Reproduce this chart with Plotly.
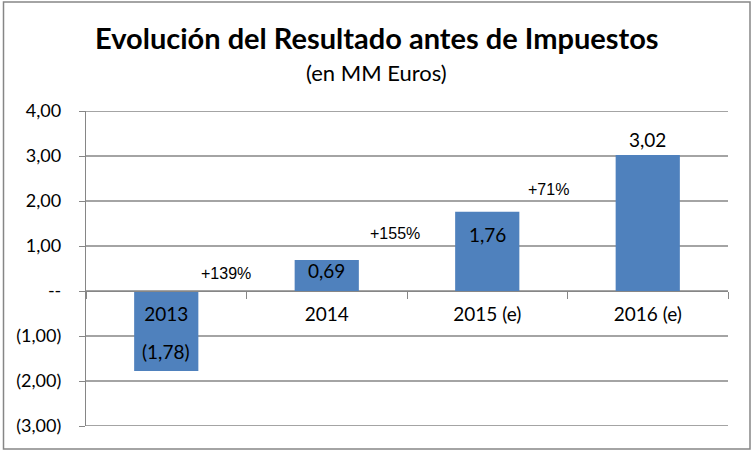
import plotly.graph_objects as go

# ---- data ----
categories = ["2013", "2014", "2015 (e)", "2016 (e)"]
values = [-1.78, 0.69, 1.76, 3.02]
growth_labels = ["+139%", "+155%", "+71%"]
y_tick_values = [-3, -2, -1, 0, 1, 2, 3, 4]
y_tick_labels = ["(3,00)", "(2,00)", "(1,00)", "--", "1,00", "2,00", "3,00", "4,00"]


def fmt(v):
    s = f"{abs(v):.2f}".replace(".", ",")
    return f"({s})" if v < 0 else s


BAR = "#4F81BD"
GRID = "#868686"
FONT = "Lato"

W, H = 753, 452
L, R, T, B = 86, 25, 111, 26
pw, ph = W - L - R, H - T - B


def px2paper_x(px):
    return (px - L) / pw


def px2paper_y(py):
    return (H - B - py) / ph


fig = go.Figure()
fig.add_trace(go.Bar(
    x=categories, y=values, marker=dict(color=BAR, line=dict(width=0)),
    hoverinfo="x+y", showlegend=False,
))
# invisible carrier trace for the category axis drawn at y = 0
fig.add_trace(go.Scatter(
    x=categories, y=[0] * len(categories), xaxis="x2", yaxis="y2",
    mode="markers", marker=dict(opacity=0), hoverinfo="skip", showlegend=False,
))

annotations = []
# value labels (x given as category index)
value_shift = [20, -11, -23, 16]
for i, (v, s) in enumerate(zip(values, value_shift)):
    annotations.append(dict(
        x=i, y=v, xref="x", yref="y", text=fmt(v), showarrow=False,
        yanchor="middle", yshift=s, font=dict(family=FONT, size=19, color="#000000"),
    ))

# growth labels between bars
growth_pos = [(0.375, 0.38), (1.425, 1.27), (2.38, 2.25)]
for g, (gx, gy) in zip(growth_labels, growth_pos):
    annotations.append(dict(
        x=gx, y=gy, xref="x", yref="y", text=g, showarrow=False,
        font=dict(family="Liberation Sans", size=16, color="#000000"),
    ))

# title & subtitle
annotations.append(dict(
    x=px2paper_x(377), y=px2paper_y(38), xref="paper", yref="paper",
    text="<b>Evolución del Resultado antes de Impuestos</b>", showarrow=False,
    font=dict(family=FONT, size=29, color="#000000"), xanchor="center", yanchor="middle",
))
annotations.append(dict(
    x=px2paper_x(376), y=px2paper_y(72), xref="paper", yref="paper",
    text="(en MM Euros)", showarrow=False,
    font=dict(family=FONT, size=22, color="#000000"), xanchor="center", yanchor="middle",
))

shapes = [dict(
    type="rect", xref="paper", yref="paper",
    x0=px2paper_x(3.5), x1=px2paper_x(750), y0=px2paper_y(449), y1=px2paper_y(2),
    line=dict(color=GRID, width=1.5), fillcolor="rgba(0,0,0,0)", layer="below",
)]
# horizontal gridlines at the y-axis tick values
for tv in y_tick_values:
    shapes.append(dict(
        type="line", xref="x domain", yref="y", x0=0, x1=1, y0=tv, y1=tv,
        line=dict(color=GRID, width=1.3), layer="below",
    ))

fig.update_layout(
    width=W, height=H,
    margin=dict(l=L, r=R, t=T, b=B, pad=0),
    paper_bgcolor="white", plot_bgcolor="white",
    bargap=0.6,
    annotations=annotations,
    shapes=shapes,
    xaxis=dict(
        type="category", range=[-0.5, 3.5],
        showline=False, ticks="", showticklabels=False, showgrid=False, zeroline=False,
    ),
    xaxis2=dict(
        type="category", overlaying="x", anchor="free", position=3 / 7,
        range=[-0.5, 3.5], side="bottom",
        showline=True, linecolor=GRID, linewidth=1.3,
        ticks="outside", tickson="boundaries", ticklen=7, tickcolor=GRID, tickwidth=1.3,
        showgrid=False, zeroline=False,
        tickfont=dict(family=FONT, size=19, color="#000000"),
        ticklabelstandoff=6,
    ),
    yaxis=dict(
        range=[-3, 4], tickvals=y_tick_values, ticktext=y_tick_labels,
        showline=True, linecolor=GRID, linewidth=1.3,
        ticks="outside", ticklen=6, tickcolor=GRID, tickwidth=1.3,
        showgrid=False, zeroline=False,
        tickfont=dict(family=FONT, size=18, color="#000000"),
        ticklabelstandoff=14,
    ),
    yaxis2=dict(
        range=[-3, 4], overlaying="y", anchor="x2",
        visible=False, showgrid=False, zeroline=False,
    ),
)

fig.write_html(
    "out.html",
    config={"displayModeBar": False},
    post_script="document.body.style.margin='0';document.body.style.overflow='hidden';",
)
